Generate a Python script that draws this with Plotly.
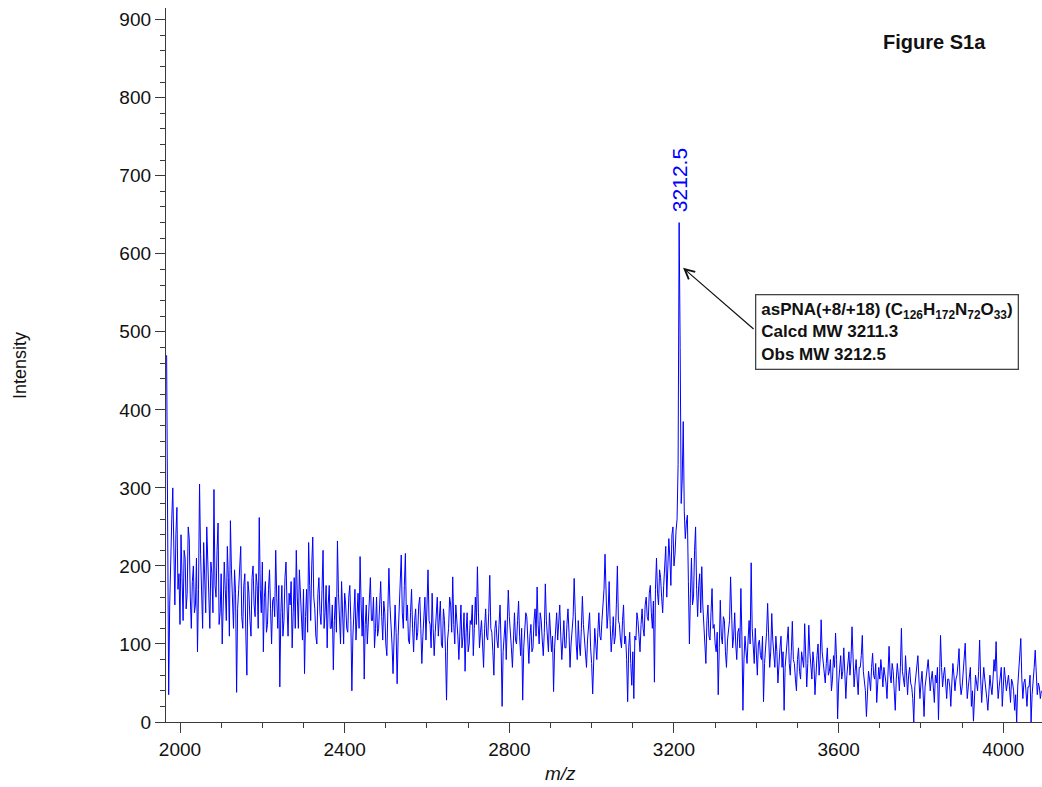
import plotly.graph_objects as go

# Spectrum: intensities sampled every 2.5 m/z units starting at m/z 1967.5
MZ_START = 1967.5
MZ_STEP = 2.5
intensity = [
    # 1967.5 - 2065
    470, 180, 35, 150, 225, 260, 300, 200, 150, 240, 275, 170, 190, 125, 240, 185, 130, 220, 210, 145,
    165, 250, 235, 160, 120, 180, 200, 140, 150, 210, 90, 170, 305, 215, 175, 120, 230, 195, 140, 250,
    # 2067.5 - 2165
    215, 160, 120, 205, 190, 140, 298, 175, 160, 220, 255, 125, 140, 190, 100, 150, 205, 170, 130, 225,
    185, 110, 258, 195, 150, 120, 195, 165, 38, 145, 170, 200, 225, 135, 120, 175, 190, 110, 60, 180,
    # 2167.5 - 2265
    165, 130, 110, 185, 200, 150, 135, 190, 175, 120, 262, 170, 140, 205, 90, 160, 180, 115, 125, 170,
    195, 145, 100, 155, 160, 135, 220, 160, 120, 175, 45, 140, 175, 110, 130, 185, 205, 150, 110, 165,
    # 2267.5 - 2365
    150, 180, 95, 140, 185, 120, 220, 160, 120, 195, 165, 130, 105, 170, 62, 135, 170, 115, 230, 175,
    130, 200, 237, 160, 145, 110, 100, 165, 185, 140, 125, 170, 220, 120, 140, 175, 95, 150, 175, 120,
    # 2367.5 - 2465
    120, 150, 67, 130, 160, 115, 232, 165, 125, 100, 180, 140, 100, 165, 150, 120, 115, 160, 175, 130,
    40, 110, 140, 170, 105, 135, 165, 120, 212, 150, 110, 160, 55, 125, 150, 100, 125, 160, 185, 130,
    # 2467.5 - 2565
    130, 160, 95, 120, 160, 110, 120, 150, 180, 135, 105, 155, 140, 100, 85, 145, 197, 150, 130, 100,
    62, 120, 150, 115, 49, 110, 140, 165, 214, 140, 120, 175, 216, 130, 150, 105, 100, 140, 170, 120,
    # 2567.5 - 2665
    90, 130, 145, 105, 115, 150, 160, 120, 75, 110, 135, 160, 105, 140, 195, 130, 125, 95, 165, 120,
    85, 115, 140, 160, 110, 135, 155, 100, 95, 145, 130, 90, 28, 105, 120, 160, 150, 115, 186, 125,
    # 2667.5 - 2765
    100, 150, 135, 110, 80, 125, 150, 95, 110, 140, 65, 115, 140, 90, 100, 130, 125, 150, 85, 120,
    160, 125, 199, 140, 95, 115, 130, 100, 70, 120, 145, 110, 105, 140, 188, 120, 115, 90, 60, 120,
    # 2767.5 - 2865
    130, 105, 95, 125, 150, 100, 20, 90, 110, 130, 80, 115, 169, 135, 120, 95, 70, 115, 140, 105,
    100, 130, 155, 110, 85, 120, 28, 95, 115, 140, 135, 100, 75, 110, 125, 90, 95, 130, 145, 110,
    # 2867.5 - 2965
    173, 125, 100, 140, 130, 105, 85, 115, 177, 130, 115, 90, 140, 120, 90, 110, 39, 95, 120, 140,
    105, 125, 150, 110, 80, 105, 130, 95, 95, 125, 145, 115, 70, 100, 115, 135, 184, 120, 100, 80,
    # 2967.5 - 3065
    130, 100, 85, 120, 161, 125, 110, 90, 70, 105, 125, 140, 95, 75, 36, 90, 120, 100, 80, 115,
    140, 110, 105, 130, 155, 170, 215, 150, 120, 140, 180, 125, 90, 110, 135, 100, 110, 150, 200, 130,
    # 3067.5 - 3165
    125, 105, 95, 130, 150, 100, 110, 80, 26, 95, 115, 75, 47, 90, 30, 110, 105, 140, 130, 110,
    90, 125, 145, 120, 110, 150, 160, 135, 130, 165, 175, 140, 120, 155, 51, 170, 210, 165, 150, 195,
    # 3167.5 - 3265
    185, 160, 140, 175, 200, 225, 160, 190, 235, 210, 175, 240, 250, 200, 215, 245, 260, 330, 640, 480,
    280, 310, 385, 270, 235, 255, 265, 180, 100, 165, 210, 150, 160, 220, 250, 170, 135, 175, 190, 140,
    # 3267.5 - 3365
    199, 150, 120, 95, 75, 130, 150, 110, 105, 140, 171, 120, 125, 100, 90, 115, 35, 95, 156, 110,
    100, 135, 130, 90, 70, 105, 115, 130, 186, 120, 95, 110, 140, 100, 80, 115, 120, 95, 171, 110,
    # 3367.5 - 3465
    15, 80, 110, 90, 75, 105, 130, 100, 204, 120, 90, 75, 120, 95, 60, 100, 105, 85, 80, 110,
    26, 75, 95, 115, 152, 100, 70, 90, 139, 105, 85, 70, 110, 90, 50, 85, 95, 110, 70, 90,
    # 3467.5 - 3565
    15, 70, 85, 100, 122, 75, 60, 90, 129, 80, 75, 55, 40, 80, 95, 65, 55, 90, 80, 70,
    126, 85, 45, 75, 124, 90, 70, 55, 90, 75, 35, 65, 85, 100, 60, 80, 131, 90, 75, 60,
    # 3567.5 - 3665
    50, 75, 95, 60, 65, 80, 40, 55, 85, 70, 114, 80, 4, 50, 70, 85, 55, 65, 95, 70,
    30, 60, 75, 90, 60, 80, 122, 75, 45, 65, 80, 55, 35, 70, 70, 85, 111, 65, 50, 40,
    # 3667.5 - 3765
    7, 45, 65, 55, 40, 70, 88, 60, 55, 75, 25, 50, 70, 55, 80, 65, 45, 70, 60, 50,
    30, 65, 97, 60, 50, 75, 65, 40, 15, 55, 75, 60, 40, 70, 120, 65, 55, 45, 85, 60,
    # 3767.5 - 3865
    35, 60, 70, 50, 45, 30, 0, 45, 60, 70, 85, 55, 30, 50, 65, 40, 7, 45, 55, 70,
    80, 60, 40, 55, 65, 45, 25, 60, 50, 70, 3, 55, 111, 70, 45, 60, 70, 50, 30, 55,
    # 3867.5 - 3965
    55, 45, 20, 50, 75, 60, 40, 55, 60, 75, 94, 50, 35, 45, 65, 80, 101, 60, 30, 45,
    55, 70, 20, 40, 1, 45, 60, 50, 40, 65, 105, 55, 25, 50, 70, 55, 45, 30, 15, 45,
    # 3967.5 - 4065
    60, 45, 35, 55, 80, 65, 103, 55, 30, 45, 55, 70, 20, 40, 70, 55, 40, 50, 60, 45,
    25, 55, 50, 40, 15, 35, 0, 45, 65, 80, 107, 55, 30, 50, 55, 40, 20, 45, 45, 60,
    # 4067.5 - 4092.5
    0, 35, 50, 70, 92, 55, 35, 50, 45, 30, 40,
]

x_ticks = [2000, 2400, 2800, 3200, 3600, 4000]
y_ticks = [0, 100, 200, 300, 400, 500, 600, 700, 800, 900]

peak_mz = 3212.5
peak_label = "3212.5"
box_lines = [
    "asPNA(+8/+18) (C<sub>126</sub>H<sub>172</sub>N<sub>72</sub>O<sub>33</sub>)",
    "Calcd MW 3211.3",
    "Obs MW 3212.5",
]

FONT = "Liberation Sans, Arial, sans-serif"
AX = "#3a3a3a"

fig = go.Figure()
fig.add_trace(go.Scatter(
    y=intensity, x0=MZ_START, dx=MZ_STEP, mode="lines",
    line=dict(color="#0000ff", width=1), hoverinfo="skip", showlegend=False,
))

axis_common = dict(
    showline=True, linecolor=AX, linewidth=1.3, ticks="outside",
    tickcolor=AX, ticklen=10, tickwidth=1.3, showgrid=False, zeroline=False,
    tickfont=dict(family=FONT, size=19, color="#111111"),
)

fig.update_layout(
    width=1042, height=787,
    margin=dict(l=166, r=0, t=8, b=65),
    plot_bgcolor="white", paper_bgcolor="white",
    xaxis=dict(range=[1966, 4094], tickvals=x_ticks,
               minor=dict(dtick=100, ticklen=5, tickcolor=AX, ticks="outside", tick0=2000),
               **axis_common),
    yaxis=dict(range=[0, 915], tickvals=y_ticks,
               minor=dict(dtick=20, ticklen=5, tickcolor=AX, ticks="outside", tick0=0),
               **axis_common),
)

W, H = 876, 714
ann = []
ann.append(dict(x=peak_mz, y=651, xref="x", yref="y", text=peak_label, textangle=-90,
                showarrow=False, xanchor="center", yanchor="bottom",
                font=dict(family=FONT, size=21, color="#0000ff")))
ann.append(dict(x=3222, y=582, xref="x", yref="y", ax=3397, ay=502, axref="x", ayref="y",
                text="", showarrow=True, arrowhead=5, arrowsize=1.6, arrowwidth=1.2,
                arrowcolor="#111111"))
ann.append(dict(x=3397, y=500, xref="x", yref="y", text="<b>" + "<br>".join(box_lines) + "</b>",
                showarrow=False, xanchor="left", yanchor="middle", align="left",
                bordercolor="#444444", borderwidth=1.3, borderpad=5, bgcolor="white",
                font=dict(family=FONT, size=17, color="#111111")))
ann.append(dict(x=(934 - 166) / W, y=(722 - 42) / H, xref="paper", yref="paper",
                text="<b>Figure S1a</b>", showarrow=False, xanchor="center", yanchor="middle",
                font=dict(family=FONT, size=20, color="#111111")))
ann.append(dict(x=(20 - 166) / W, y=(722 - 366) / H, xref="paper", yref="paper",
                text="Intensity", textangle=-90, showarrow=False,
                xanchor="center", yanchor="middle",
                font=dict(family=FONT, size=18, color="#111111")))
ann.append(dict(x=(560 - 166) / W, y=-(773 - 722) / H, xref="paper", yref="paper",
                text="<i>m/z</i>", showarrow=False, xanchor="center", yanchor="middle",
                font=dict(family=FONT, size=19, color="#111111")))
fig.update_layout(annotations=ann)

fig.write_html("out.html")
